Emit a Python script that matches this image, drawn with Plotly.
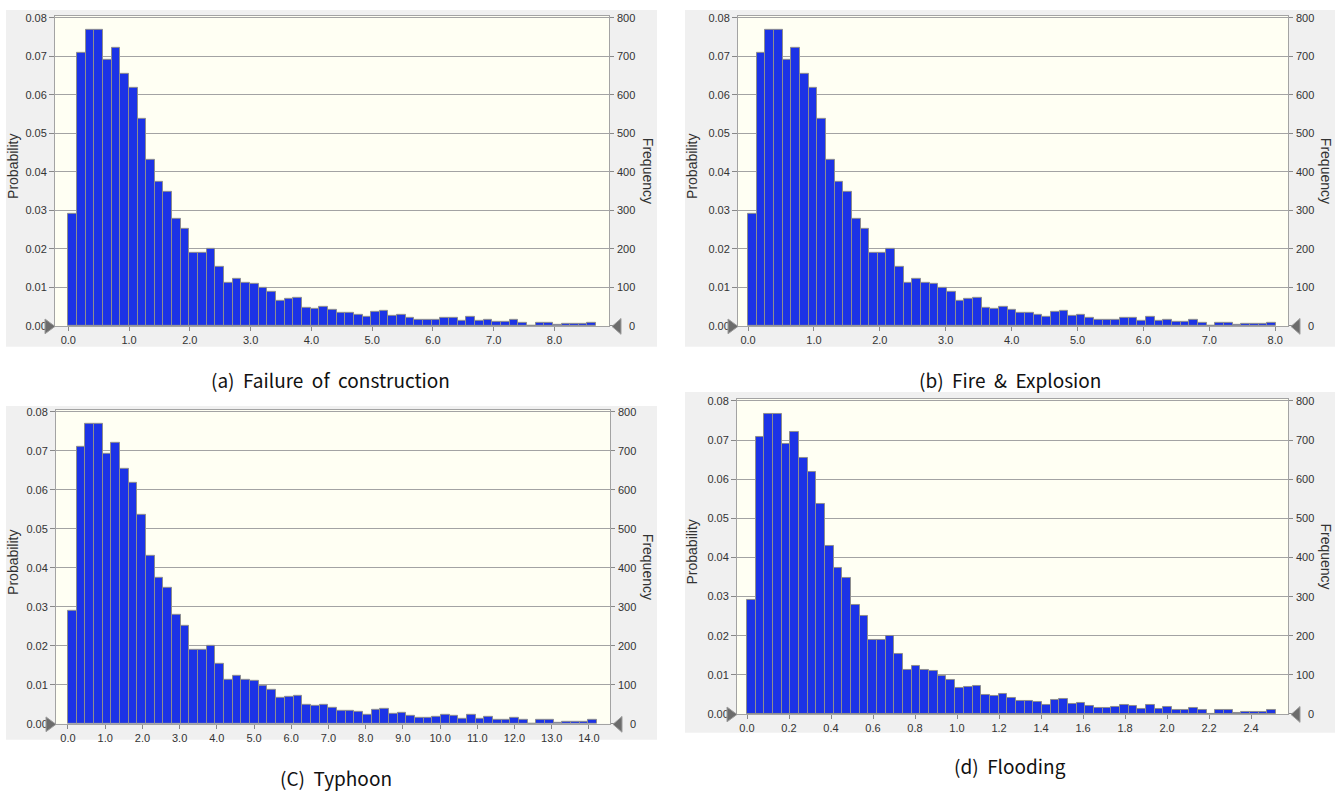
import plotly.graph_objects as go

# ---------------- data ----------------
# probability per bin (same distribution shape in all four forecasts), 61 bins
probability = [
    0.0291, 0.0709, 0.0768, 0.0768, 0.0691, 0.0721, 0.0654, 0.0619, 0.0537, 0.0430,
    0.0374, 0.0348, 0.0279, 0.0251, 0.0190, 0.0190, 0.0199, 0.0153, 0.0113, 0.0122,
    0.0113, 0.0110, 0.0098, 0.0088, 0.0066, 0.0069, 0.0072, 0.0048, 0.0045, 0.0050,
    0.0042, 0.0033, 0.0033, 0.0030, 0.0024, 0.0036, 0.0039, 0.0026, 0.0028, 0.0021,
    0.0016, 0.0015, 0.0017, 0.0022, 0.0020, 0.0014, 0.0023, 0.0014, 0.0017, 0.0010,
    0.0010, 0.0015, 0.0009, 0.0001, 0.0009, 0.0009, 0.0003, 0.0005, 0.0005, 0.0005,
    0.0009,
]
trials = 10000
frequency = [p * trials for p in probability]

captions = ["(a)  Failure  of  construction", "(b)  Fire  &  Explosion",
            "(C)  Typhoon", "(d)  Flooding"]
bin_width = [0.1424, 0.1313, 0.2331, 0.0413]
x_ranges = [[-0.219, 8.898], [-0.152, 8.194], [-0.322, 14.566], [-0.0476, 2.576]]
x_dticks = [1.0, 1.0, 1.0, 0.2]
prob_ticks = [0.00, 0.01, 0.02, 0.03, 0.04, 0.05, 0.06, 0.07, 0.08]
freq_ticks = [0, 100, 200, 300, 400, 500, 600, 700, 800]

# ---------------- layout geometry (pixels) ----------------
W, H = 1339, 795
panel_boxes = [(6, 6, 657, 347), (685, 6, 1335, 347), (6, 407, 657, 745), (685, 393, 1335, 738)]
plot_boxes = [(55, 12, 609, 326), (738, 12, 1288, 326), (56, 411, 610, 729), (737, 400, 1288, 719)]
caption_pos = [(330, 380), (1010, 380), (336, 783), (1010, 771)]


def px(x):
    return x / W


def py(y):
    return 1 - y / H


BAR = "#1c33e6"
GRID = "#a3a3a3"
TXT = "#333333"
TICKFONT = dict(family="Liberation Sans, Arial, sans-serif", size=11, color=TXT)

fig = go.Figure()
layout = dict(
    width=W, height=H, margin=dict(l=0, r=0, t=0, b=0),
    paper_bgcolor="white", plot_bgcolor="rgba(0,0,0,0)",
    showlegend=False, bargap=0, shapes=[], annotations=[],
)

for i in range(4):
    n = i + 1
    xa = "x" if n == 1 else f"x{n}"
    yl_idx = 2 * i + 1
    yr_idx = 2 * i + 2
    yl = "y" if yl_idx == 1 else f"y{yl_idx}"
    yr = f"y{yr_idx}"
    w = bin_width[i]
    xs = [(k + 0.5) * w for k in range(len(probability))]

    fig.add_trace(go.Bar(
        x=xs, y=probability, width=w, xaxis=xa, yaxis=yl,
        marker=dict(color=BAR, line=dict(color="#8e8e8e", width=1)),
        hoverinfo="skip",
    ))
    fig.add_trace(go.Bar(
        x=xs, y=frequency, width=w, xaxis=xa, yaxis=yr,
        marker=dict(color="rgba(0,0,0,0)", line=dict(width=0)),
        hoverinfo="skip",
    ))

    x0, y0, x1, y1 = plot_boxes[i]
    xkey = "xaxis" if n == 1 else f"xaxis{n}"
    ylkey = "yaxis" if yl_idx == 1 else f"yaxis{yl_idx}"
    yrkey = f"yaxis{yr_idx}"
    top = 0.08 + 2.0 / ((y1 - y0) / 8.05) * 0.01

    layout[xkey] = dict(
        domain=[px(x0), px(x1)], anchor=yl, range=x_ranges[i],
        tick0=0, dtick=x_dticks[i], tickformat=".1f",
        showgrid=False, zeroline=False, showline=True, mirror=True,
        linecolor=GRID, linewidth=1, ticks="outside", ticklen=4,
        tickcolor="#888888", tickfont=TICKFONT,
    )
    layout[ylkey] = dict(
        domain=[py(y1), py(y0)], anchor=xa, range=[0, top],
        tickvals=prob_ticks, tickformat=".2f",
        showgrid=True, gridcolor=GRID, gridwidth=1, zeroline=False,
        showline=True, mirror=True, linecolor=GRID, linewidth=1,
        ticks="outside", ticklen=5, tickcolor="#888888", tickfont=TICKFONT,
    )
    layout[yrkey] = dict(
        domain=[py(y1), py(y0)], anchor=xa, overlaying=yl, side="right",
        range=[0, top * trials], tickvals=freq_ticks, showticklabels=False,
        showgrid=False, zeroline=False, showline=False,
        ticks="outside", ticklen=4, tickcolor="#888888",
    )
    # right-aligned frequency tick labels placed on the frequency axis scale
    for v in freq_ticks:
        layout["annotations"].append(dict(
            text=str(v), xref="paper", yref=yr, x=px(x1 + 28), y=v,
            xanchor="right", yanchor="middle", showarrow=False, font=TICKFONT,
        ))

    # panel background and plot-area background
    bx0, by0, bx1, by1 = panel_boxes[i]
    layout["shapes"].append(dict(
        type="rect", xref="paper", yref="paper", layer="below",
        x0=px(bx0), x1=px(bx1), y0=py(by1), y1=py(by0),
        fillcolor="#f0f0f0", line=dict(width=0),
    ))
    layout["shapes"].append(dict(
        type="rect", xref="paper", yref="paper", layer="below",
        x0=px(x0), x1=px(x1), y0=py(y1), y1=py(y0),
        fillcolor="#fffff3", line=dict(width=0),
    ))
    # certainty grabbers (triangles)
    yb = y1 + 0.5
    left_tri = [(x0 - 10, yb - 7.5), (x0 - 10, yb + 7.5), (x0, yb)]
    right_tri = [(x1 + 3, yb), (x1 + 12, yb - 8), (x1 + 12, yb + 8)]
    for tri in (left_tri, right_tri):
        path = "M {} {} L {} {} L {} {} Z".format(
            px(tri[0][0]), py(tri[0][1]), px(tri[1][0]), py(tri[1][1]),
            px(tri[2][0]), py(tri[2][1]))
        layout["shapes"].append(dict(
            type="path", xref="paper", yref="paper", path=path,
            fillcolor="#6c6c6c", line=dict(color="#9c9c9c", width=1), layer="above",
        ))

    # axis titles
    yc = (y0 + y1) / 2
    layout["annotations"].append(dict(
        text="Probability", xref="paper", yref="paper", x=px(bx0 + 7), y=py(yc - 4),
        textangle=-90, showarrow=False, xanchor="center", yanchor="middle",
        font=dict(family="Liberation Sans, Arial, sans-serif", size=14, color=TXT),
    ))
    layout["annotations"].append(dict(
        text="Frequency", xref="paper", yref="paper", x=px(bx1 - 9), y=py(yc),
        textangle=90, showarrow=False, xanchor="center", yanchor="middle",
        font=dict(family="Liberation Sans, Arial, sans-serif", size=14, color=TXT),
    ))
    # caption
    cx, cy = caption_pos[i]
    layout["annotations"].append(dict(
        text=captions[i].replace(" ", "\u00a0"), xref="paper", yref="paper",
        x=px(cx), y=py(cy), showarrow=False, xanchor="center", yanchor="middle",
        font=dict(family="Noto Sans CJK KR, Noto Sans, sans-serif", size=19, color="#111111"),
    ))

fig.update_layout(**layout)
fig.write_html("out.html", config={"displayModeBar": False},
               post_script="document.body.style.margin='0';")
